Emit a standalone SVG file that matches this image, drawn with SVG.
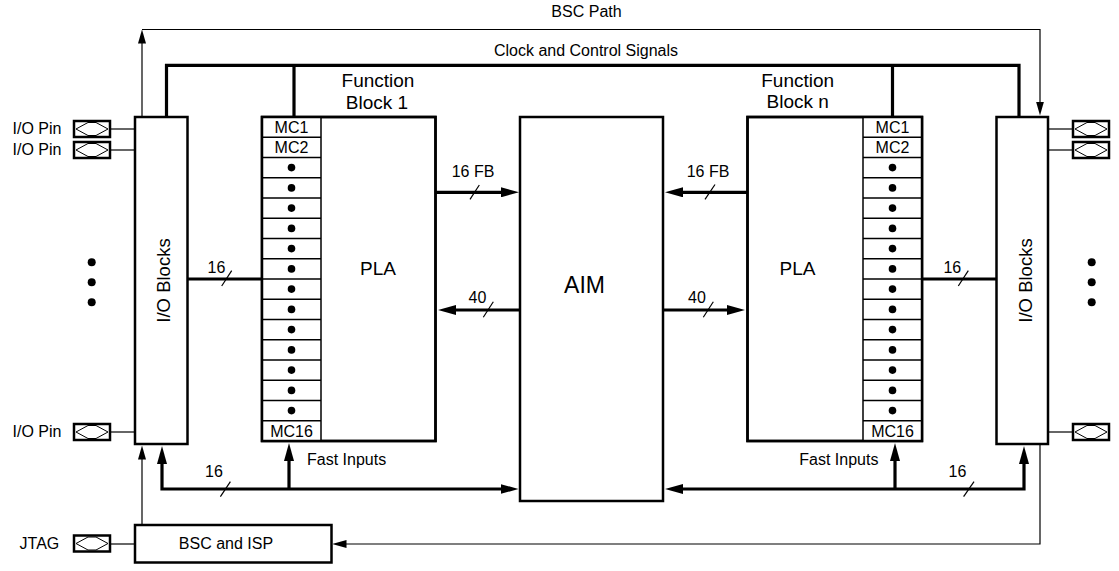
<svg xmlns="http://www.w3.org/2000/svg" xmlns:xlink="http://www.w3.org/1999/xlink" width="1119" height="571" viewBox="0 0 1119 571">
<style>
text{font-family:"Liberation Sans",Arial,sans-serif;fill:#000}
.lbl{font-size:16px}
.mc{font-size:16px;text-anchor:middle}
.big{font-size:19px;text-anchor:middle}
.box{fill:#fff;stroke:#000;stroke-width:2.5}
.row{stroke:#000;stroke-width:1.5}
.thick{fill:none;stroke:#000;stroke-width:3.2}
.thin{fill:none;stroke:#000;stroke-width:1.2}
.slash{stroke:#000;stroke-width:1.2}
.pinline{stroke:#000;stroke-width:1.2}
</style>
<defs>
<marker id="ah" markerUnits="userSpaceOnUse" markerWidth="18" markerHeight="10" viewBox="0 0 18 10" refX="1" refY="5" orient="auto-start-reverse"><path d="M0,0 L18,5 L0,10 z" fill="#000"/></marker>
<marker id="at" markerUnits="userSpaceOnUse" markerWidth="14" markerHeight="8" viewBox="0 0 14 8" refX="1" refY="4" orient="auto-start-reverse"><path d="M0,0 L14,4 L0,8 z" fill="#000"/></marker>
<g id="pin">
<rect x="0" y="0" width="36" height="16" fill="#fff" stroke="#000" stroke-width="2.5"/>
<path d="M2,8 L14,1.5 L22,1.5 L34,8 L22,14.5 L14,14.5 z" fill="none" stroke="#000" stroke-width="1"/>
</g>
<g id="mccol">
<rect x="0" y="0" width="59" height="324" fill="#fff" stroke="none"/>
<g class="row">
<line x1="0" y1="20.25" x2="59" y2="20.25"/><line x1="0" y1="40.5" x2="59" y2="40.5"/><line x1="0" y1="60.75" x2="59" y2="60.75"/><line x1="0" y1="81" x2="59" y2="81"/><line x1="0" y1="101.25" x2="59" y2="101.25"/><line x1="0" y1="121.5" x2="59" y2="121.5"/><line x1="0" y1="141.75" x2="59" y2="141.75"/><line x1="0" y1="162" x2="59" y2="162"/><line x1="0" y1="182.25" x2="59" y2="182.25"/><line x1="0" y1="202.5" x2="59" y2="202.5"/><line x1="0" y1="222.75" x2="59" y2="222.75"/><line x1="0" y1="243" x2="59" y2="243"/><line x1="0" y1="263.25" x2="59" y2="263.25"/><line x1="0" y1="283.5" x2="59" y2="283.5"/><line x1="0" y1="303.75" x2="59" y2="303.75"/>
</g>
<g fill="#000">
<circle cx="29.5" cy="50.6" r="3.8"/><circle cx="29.5" cy="70.9" r="3.8"/><circle cx="29.5" cy="91.1" r="3.8"/><circle cx="29.5" cy="111.4" r="3.8"/><circle cx="29.5" cy="131.6" r="3.8"/><circle cx="29.5" cy="151.9" r="3.8"/><circle cx="29.5" cy="172.1" r="3.8"/><circle cx="29.5" cy="192.4" r="3.8"/><circle cx="29.5" cy="212.6" r="3.8"/><circle cx="29.5" cy="232.9" r="3.8"/><circle cx="29.5" cy="253.1" r="3.8"/><circle cx="29.5" cy="273.4" r="3.8"/><circle cx="29.5" cy="293.6" r="3.8"/>
</g>
<text class="mc" x="29.5" y="15.8">MC1</text>
<text class="mc" x="29.5" y="36.1">MC2</text>
<text class="mc" x="29.5" y="319.6">MC16</text>
</g>
</defs>

<g id="connectors">
<!-- BSC path -->
<line class="thin" x1="142" y1="117" x2="142" y2="42.5" marker-end="url(#at)"/>
<path class="thin" d="M142,29.5 L1040,29.5 L1040,102.5" marker-end="url(#at)"/>
<!-- Clock and control -->
<path class="thick" d="M166.5,117 L166.5,65.3 L1019,65.3 L1019,117"/>
<line class="thick" x1="294" y1="65.3" x2="294" y2="117"/>
<line class="thick" x1="892.5" y1="65.3" x2="892.5" y2="117"/>
<!-- FB <-> AIM -->
<line class="thick" x1="435.5" y1="192.3" x2="502" y2="192.3" marker-end="url(#ah)"/>
<line class="thick" x1="747.5" y1="192.3" x2="682" y2="192.3" marker-end="url(#ah)"/>
<line class="thick" x1="520" y1="310" x2="455" y2="310" marker-end="url(#ah)"/>
<line class="thick" x1="663" y1="310" x2="728" y2="310" marker-end="url(#ah)"/>
<!-- IO <-> MC -->
<line class="thick" x1="187.5" y1="279" x2="262" y2="279"/>
<line class="thick" x1="922" y1="279" x2="996.5" y2="279"/>
<!-- Bottom buses -->
<path class="thick" d="M162,463 L162,489 L501.5,489" marker-start="url(#ah)" marker-end="url(#ah)"/>
<line class="thick" x1="289" y1="489" x2="289" y2="460" marker-end="url(#ah)"/>
<path class="thick" d="M1024,463 L1024,489 L682,489" marker-start="url(#ah)" marker-end="url(#ah)"/>
<line class="thick" x1="895" y1="489" x2="895" y2="460" marker-end="url(#ah)"/>
<!-- BSC/ISP -->
<line class="thin" x1="142" y1="525" x2="142" y2="458.5" marker-end="url(#at)"/>
<path class="thin" d="M1040,444 L1040,544 L345.5,544" marker-end="url(#at)"/>
<!-- pin lines -->
<g class="pinline">
<line x1="110" y1="129" x2="135" y2="129"/><line x1="110" y1="150" x2="135" y2="150"/><line x1="110" y1="432" x2="135" y2="432"/><line x1="110" y1="544" x2="135" y2="544"/>
<line x1="1048" y1="129" x2="1073" y2="129"/><line x1="1048" y1="150" x2="1073" y2="150"/><line x1="1048" y1="432" x2="1073" y2="432"/>
</g>
<!-- bus slashes -->
<g class="slash">
<line x1="470" y1="199.3" x2="479.3" y2="185"/>
<line x1="705" y1="199.3" x2="715" y2="184.5"/>
<line x1="483.3" y1="317.3" x2="493.3" y2="301.7"/>
<line x1="703.3" y1="317.3" x2="713.3" y2="301.7"/>
<line x1="221.7" y1="286" x2="231.7" y2="270.7"/>
<line x1="958.3" y1="286" x2="968.3" y2="270.7"/>
<line x1="220.4" y1="496.7" x2="230.4" y2="481.7"/>
<line x1="963.6" y1="496.7" x2="974" y2="481.7"/>
</g>
<g class="lbl">
<text x="586.5" y="17.3" text-anchor="middle">BSC Path</text>
<text x="586" y="56" text-anchor="middle">Clock and Control Signals</text>
<text x="473" y="177" text-anchor="middle">16 FB</text>
<text x="708" y="177" text-anchor="middle">16 FB</text>
<text x="477.5" y="303.3" text-anchor="middle">40</text>
<text x="697" y="303.3" text-anchor="middle">40</text>
<text x="216.5" y="273.3" text-anchor="middle">16</text>
<text x="952.3" y="272.7" text-anchor="middle">16</text>
<text x="214" y="476.7" text-anchor="middle">16</text>
<text x="957.5" y="476.7" text-anchor="middle">16</text>
<text x="307" y="465">Fast Inputs</text>
<text x="799.3" y="465">Fast Inputs</text>
</g>
</g>

<g id="pins-left">
<use xlink:href="#pin" x="74" y="121"/>
<use xlink:href="#pin" x="74" y="142"/>
<use xlink:href="#pin" x="74" y="424"/>
<use xlink:href="#pin" x="74" y="535.5"/>
<text class="lbl" x="12.5" y="133.5">I/O Pin</text>
<text class="lbl" x="12.5" y="154.5">I/O Pin</text>
<text class="lbl" x="12.5" y="436.7">I/O Pin</text>
<text class="lbl" x="19.6" y="548.5">JTAG</text>
<g fill="#000"><circle cx="91.7" cy="262.3" r="4"/><circle cx="91.7" cy="282.3" r="4"/><circle cx="91.7" cy="302.3" r="4"/></g>
</g>

<g id="pins-right">
<use xlink:href="#pin" x="1073" y="121"/>
<use xlink:href="#pin" x="1073" y="142"/>
<use xlink:href="#pin" x="1073" y="424"/>
<g fill="#000"><circle cx="1091.7" cy="262.3" r="4"/><circle cx="1091.7" cy="282.3" r="4"/><circle cx="1091.7" cy="302.3" r="4"/></g>
</g>

<g id="io-left">
<rect class="box" x="135" y="117" width="52.5" height="327"/>
<text class="big" style="font-size:18.5px" transform="translate(170,280.5) rotate(-90)">I/O Blocks</text>
</g>

<g id="io-right">
<rect class="box" x="996.5" y="117" width="51.5" height="327"/>
<text class="big" style="font-size:18.5px" transform="translate(1031.5,280.5) rotate(-90)">I/O Blocks</text>
</g>

<g id="fb1">
<rect class="box" x="262" y="117" width="173.5" height="324"/>
<use xlink:href="#mccol" x="262" y="117"/>
<line x1="321" y1="117" x2="321" y2="441" stroke="#000" stroke-width="1.5"/>
<rect x="262" y="117" width="173.5" height="324" fill="none" stroke="#000" stroke-width="2.5"/>
<text class="big" x="378" y="275">PLA</text>
<text class="big" x="378" y="87.3">Function</text>
<text class="big" x="377" y="109.3">Block 1</text>
</g>

<g id="fbn">
<rect class="box" x="747.5" y="117" width="174.5" height="324"/>
<use xlink:href="#mccol" x="863" y="117"/>
<line x1="863" y1="117" x2="863" y2="441" stroke="#000" stroke-width="1.5"/>
<rect x="747.5" y="117" width="174.5" height="324" fill="none" stroke="#000" stroke-width="2.5"/>
<text class="big" x="797.5" y="275">PLA</text>
<text class="big" x="797.7" y="86.7">Function</text>
<text class="big" x="797.7" y="108.3">Block n</text>
</g>

<g id="aim">
<rect class="box" x="520" y="117" width="143" height="384"/>
<text x="584.5" y="293.3" text-anchor="middle" style="font-size:23px">AIM</text>
</g>

<g id="bsc">
<rect class="box" x="135" y="525" width="196.5" height="37.5"/>
<text class="lbl" x="226" y="548.5" text-anchor="middle">BSC and ISP</text>
</g>
</svg>
